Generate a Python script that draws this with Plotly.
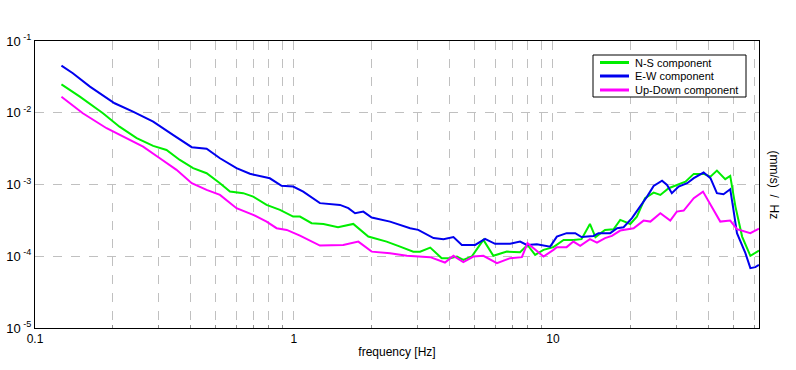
import plotly.graph_objects as go

# ---- data ----
ew_freq = [0.1265, 0.140, 0.163, 0.189, 0.203, 0.239, 0.286, 0.341, 0.403, 0.460, 0.518, 0.600, 0.676, 0.807, 0.896, 0.993,
           1.086, 1.26, 1.506, 1.622, 1.722, 1.853, 1.997, 2.35, 2.81, 3.02, 3.46, 3.78, 4.13, 4.45, 5.01, 5.47, 5.98, 6.84,
           7.47, 7.93, 8.67, 9.76, 10.36, 11.3, 12.2, 12.9, 14.35, 15.0, 16.65, 17.7, 18.75, 20.2, 21.75, 23.1, 24.5, 26.4,
           27.6, 28.8, 30.6, 33.0, 35.0, 38.2, 40.6, 43.0, 45.6, 48.4, 49.6, 51.4, 55.4, 57.9, 60.5, 62.5]
ew_psd = [0.0453, 0.0355, 0.0231, 0.0159, 0.01355, 0.01035, 0.00752, 0.00491, 0.00331, 0.00316, 0.00232, 0.00169, 0.00141,
          0.00122, 0.000957, 0.000935, 0.000796, 0.000550, 0.000520, 0.000468, 0.000398, 0.000419, 0.000346, 0.000304,
          0.000246, 0.000233, 0.000179, 0.000173, 0.000185, 0.000144, 0.000144, 0.000175, 0.000149, 0.000149, 0.000160,
          0.000144, 0.000147, 0.000136, 0.000188, 0.000210, 0.000210, 0.000185, 0.000192, 0.000210, 0.000210, 0.000246,
          0.000254, 0.000340, 0.000492, 0.000678, 0.000957, 0.001132, 0.000987, 0.000757, 0.000935, 0.001042, 0.001225,
          0.001466, 0.001225, 0.000757, 0.000733, 0.000860, 0.000492, 0.000210, 0.0001104, 0.0000683, 0.0000705, 0.0000759]

ns_freq = [0.1265, 0.149, 0.183, 0.212, 0.247, 0.286, 0.322, 0.3625, 0.408, 0.460, 0.518, 0.566, 0.637, 0.696, 0.784, 0.883,
           0.993, 1.055, 1.17, 1.30, 1.48, 1.695, 1.937, 2.28, 2.57, 2.89, 3.07, 3.36, 3.72, 4.01, 4.26, 4.51, 4.86, 5.39,
           5.89, 6.64, 7.47, 7.98, 8.54, 9.20, 10.05, 11.0, 12.0, 12.9, 13.9, 14.6, 15.9, 17.15, 18.2, 19.9, 21.1, 22.7,
           24.5, 26.0, 28.0, 30.1, 32.5, 35.0, 38.2, 40.6, 43.0, 46.3, 48.4, 50.7, 53.8, 57.9, 62.5]
ns_psd = [0.0249, 0.01675, 0.00984, 0.00640, 0.00442, 0.00345, 0.00303, 0.00220, 0.00169, 0.001436, 0.001042, 0.000796,
          0.000757, 0.000678, 0.000520, 0.000443, 0.000357, 0.000357, 0.000289, 0.000282, 0.000254, 0.000282, 0.000188,
          0.000160, 0.000136, 0.000116, 0.000116, 0.000132, 0.0000940, 0.0000940, 0.0000991, 0.0000891, 0.0000991,
          0.000169, 0.0001014, 0.000116, 0.000114, 0.000144, 0.0001045, 0.0001227, 0.000134, 0.000169, 0.000169, 0.000173,
          0.000282, 0.000185, 0.000233, 0.000238, 0.000321, 0.000282, 0.000357, 0.000644, 0.000771, 0.000716, 0.000888,
          0.000987, 0.001096, 0.001406, 0.001406, 0.001288, 0.001563, 0.001186, 0.001318, 0.000492, 0.000188, 0.0001014,
          0.000120]

ud_freq = [0.1265, 0.153, 0.189, 0.2256, 0.2615, 0.3034, 0.352, 0.403, 0.460, 0.518, 0.600, 0.696, 0.784, 0.857, 0.938,
           1.055, 1.26, 1.55, 1.773, 1.997, 2.35, 2.73, 3.36, 3.83, 4.13, 4.51, 4.93, 5.39, 6.08, 6.84, 7.59, 7.98, 9.20,
           10.05, 10.36, 11.3, 12.0, 12.75, 13.9, 14.8, 15.9, 16.9, 18.2, 20.5, 22.4, 23.8, 26.0, 28.4, 30.1, 32.0, 35.0,
           38.0, 41.8, 44.3, 48.4, 51.4, 57.9, 62.5]
ud_psd = [0.01675, 0.00984, 0.00608, 0.00442, 0.00337, 0.00232, 0.00160, 0.001042, 0.000841, 0.000716, 0.000468,
          0.000378, 0.000304, 0.000246, 0.000233, 0.000194, 0.000141, 0.000144, 0.000160, 0.000116, 0.0001104, 0.0001014,
          0.0000972, 0.0000817, 0.0001014, 0.0000828, 0.0000991, 0.0001014, 0.0000802, 0.0000940, 0.0000972, 0.000152,
          0.0000991, 0.0001227, 0.000134, 0.000134, 0.000160, 0.0001396, 0.000173, 0.000155, 0.000179, 0.000192, 0.000228,
          0.000246, 0.000314, 0.000304, 0.000398, 0.000314, 0.000419, 0.000433, 0.000644, 0.000796, 0.000443, 0.000304,
          0.000314, 0.000238, 0.000210, 0.000243]

series_names = ["N-S component", "E-W component", "Up-Down component"]
series_colors = ["#00ee00", "#0000ee", "#ff00ff"]

x_major_vals = [0.1, 1, 10]
x_major_text = ["0.1", "1", "10"]
x_minor_vals = [0.2, 0.3, 0.4, 0.5, 0.6, 0.7, 0.8, 0.9,
                2, 3, 4, 5, 6, 7, 8, 9,
                20, 30, 40, 50, 60]
y_tick_vals = [1e-5, 1e-4, 1e-3, 1e-2, 1e-1]
y_tick_text = ["10<sup> -5</sup>", "10<sup> -4</sup>", "10<sup> -3</sup>", "10<sup> -2</sup>", "10<sup> -1</sup>"]

FONT = "Liberation Sans, Arial, sans-serif"

fig = go.Figure()
for name, color, fx, fy in zip(series_names, series_colors,
                               [ns_freq, ew_freq, ud_freq], [ns_psd, ew_psd, ud_psd]):
    fig.add_trace(go.Scatter(x=fx, y=fy, mode="lines", name=name, showlegend=False,
                             line=dict(color=color, width=2)))

# ---- custom legend box (paper coordinates) ----
L, R, T, B = 35, 37, 41, 42
W, H = 796 - L - R, 370 - T - B
def px(xp):
    return (xp - L) / W
def py(yp):
    return (370 - B - yp) / H

shapes = [dict(type="rect", xref="paper", yref="paper",
               x0=px(593), x1=px(746), y0=py(97), y1=py(55),
               line=dict(color="black", width=1), fillcolor="white", layer="above")]
annotations = []
legend_rows = [62.5, 76, 90]
for name, color, yr in zip(series_names, series_colors, legend_rows):
    shapes.append(dict(type="line", xref="paper", yref="paper",
                       x0=px(600), x1=px(629), y0=py(yr), y1=py(yr),
                       line=dict(color=color, width=3), layer="above"))
    annotations.append(dict(text=name, xref="paper", yref="paper",
                            x=px(633), y=py(yr), xanchor="left", yanchor="middle",
                            showarrow=False, font=dict(size=11, family=FONT)))

annotations.append(dict(text="(mm/s)  /  Hz", xref="paper", yref="paper",
                        x=1, y=0.5, xanchor="left", yanchor="middle", xshift=6,
                        textangle=90, showarrow=False, font=dict(size=12, family=FONT)))

grid_color = "#c0c0c0"
fig.update_layout(
    width=796, height=370,
    margin=dict(l=L, r=R, t=T, b=B),
    paper_bgcolor="white", plot_bgcolor="white",
    font=dict(family=FONT, size=12, color="black"),
    showlegend=False,
    xaxis=dict(type="log", range=[-1, 1.796], automargin=False,
               tickmode="array", tickvals=x_major_vals, ticktext=x_major_text,
               showgrid=True, gridcolor=grid_color, griddash="dash", gridwidth=1,
               ticks="", showline=True, linecolor="black", linewidth=1, mirror=True,
               zeroline=False,
               minor=dict(tickmode="array", tickvals=x_minor_vals, ticks="inside", ticklen=3,
                          tickcolor="#909090", showgrid=True, gridcolor=grid_color,
                          griddash="dash", gridwidth=1),
               title=dict(text="frequency [Hz]", font=dict(size=12), standoff=2),
               tickfont=dict(size=12)),
    yaxis=dict(type="log", range=[-5, -1], automargin=False,
               tickvals=y_tick_vals, ticktext=y_tick_text,
               showgrid=True, gridcolor=grid_color, griddash="dash", gridwidth=1,
               ticks="", showline=True, linecolor="black", linewidth=1, mirror=True,
               zeroline=False, tickfont=dict(size=13)),
    shapes=shapes,
    annotations=annotations,
)

fig.write_html("out.html", config={"displayModeBar": False},
               post_script="document.body.style.margin='0px';")
